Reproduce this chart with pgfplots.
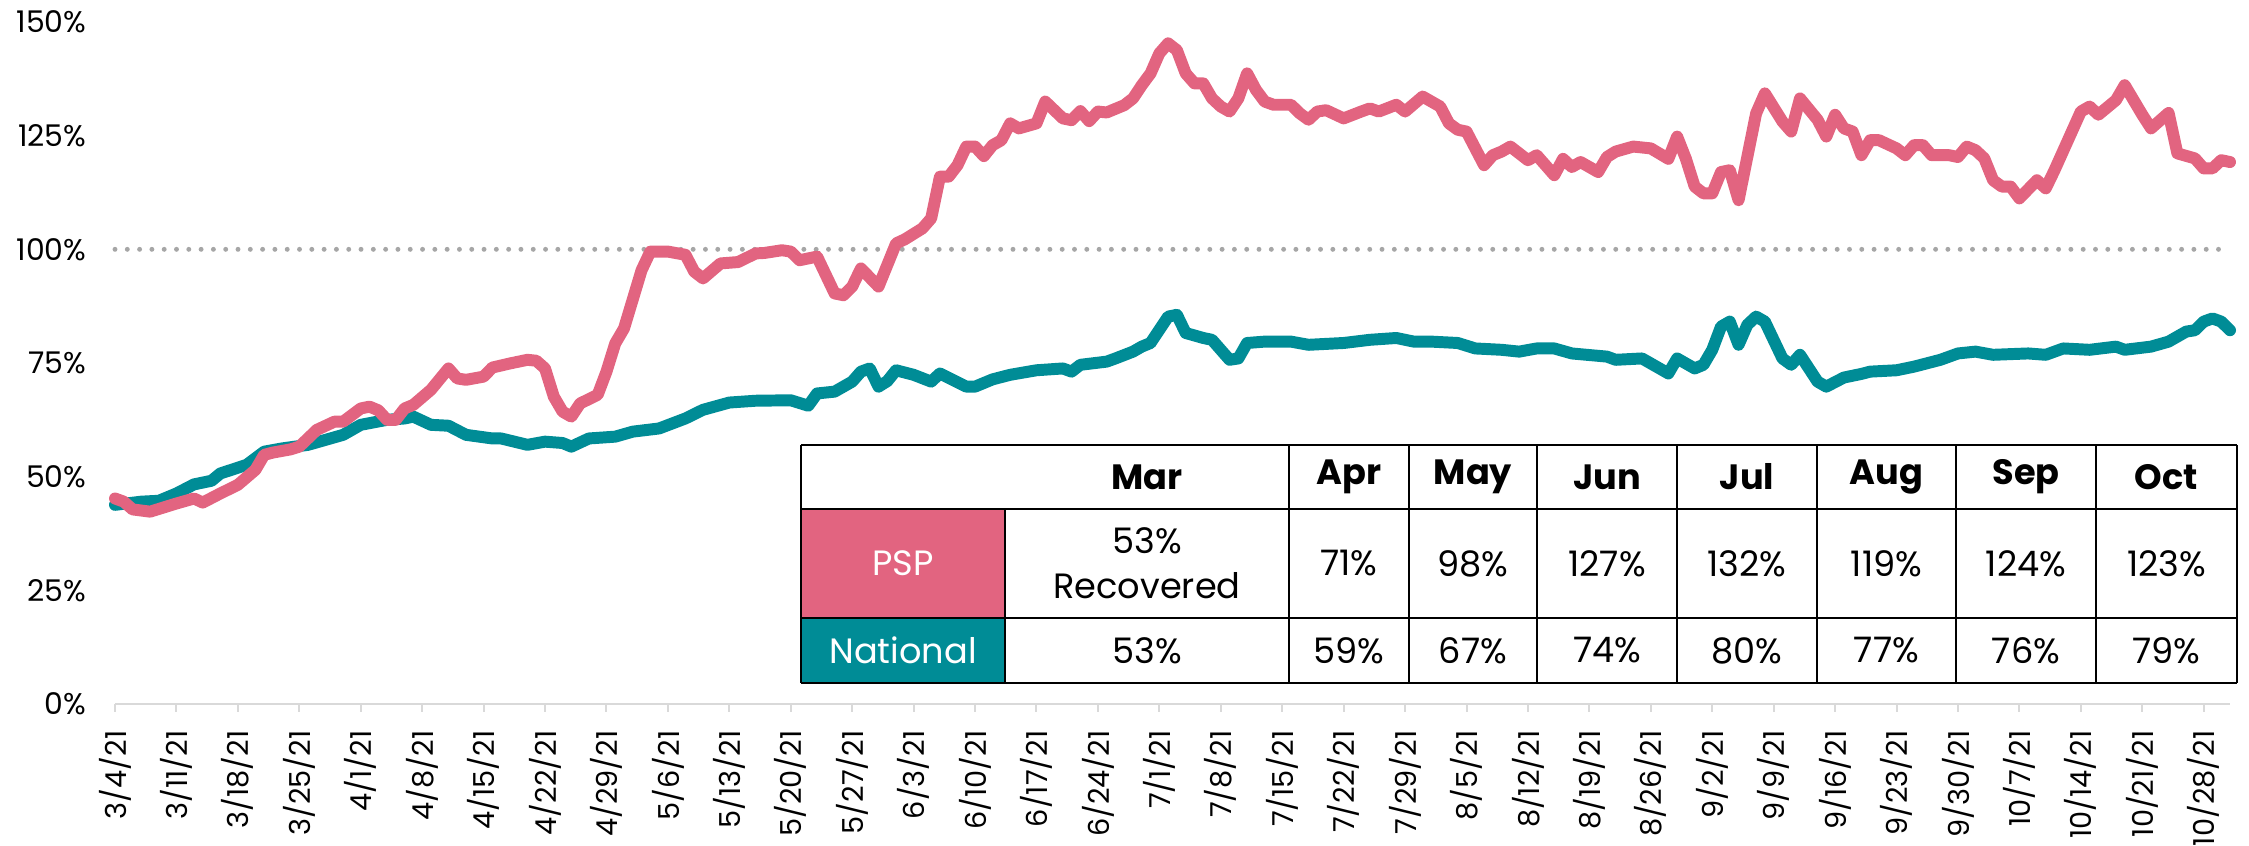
\documentclass[border=0pt]{standalone}
\usepackage{fontspec}
\setmainfont{Poppins}
\usepackage{pgfplots}
\pgfplotsset{compat=1.18}
\definecolor{psp}{HTML}{E26480}
\definecolor{nat}{HTML}{008C96}
\definecolor{axgray}{HTML}{D9D9D9}
\definecolor{dotgray}{HTML}{A6A6A6}
\begin{document}
\begin{tikzpicture}[x=1mm,y=1mm]
\useasboundingbox (0,0) rectangle (224.9,84.6);
\begin{axis}[
  at={(11.5mm,14.2mm)}, anchor=south west, scale only axis,
  width=211.5mm, height=68.2mm,
  xmin=0, xmax=241, ymin=0, ymax=150,
  clip=false,
  axis lines*=left,
  x axis line style={axgray, line width=0.25mm},
  y axis line style={draw=none},
  tick align=outside, major tick length=0.8mm,
  xtick style={axgray, line width=0.2mm},
  ytick style={draw=none},
  xtick={0,7,...,238},
  xticklabels={3/4/21,3/11/21,3/18/21,3/25/21,4/1/21,4/8/21,4/15/21,4/22/21,4/29/21,5/6/21,5/13/21,5/20/21,5/27/21,6/3/21,6/10/21,6/17/21,6/24/21,7/1/21,7/8/21,7/15/21,7/22/21,7/29/21,8/5/21,8/12/21,8/19/21,8/26/21,9/2/21,9/9/21,9/16/21,9/23/21,9/30/21,10/7/21,10/14/21,10/21/21,10/28/21},
  ytick={0,25,...,150},
  yticklabels={0\%,25\%,50\%,75\%,100\%,125\%,150\%},
  /pgf/number format/assume math mode=true,
  x tick label style={rotate=90, anchor=east, inner sep=0pt, font=\fontsize{8.2}{10}\selectfont},
  y tick label style={anchor=east, inner sep=0pt, font=\fontsize{8.5}{10}\selectfont},
  xticklabel shift=1.8mm,
  yticklabel shift=2mm,
]
\addplot[dotgray, line width=1.4pt, dash pattern=on 0pt off 3.5pt, line cap=round] coordinates {(0,100) (241,100)};
\addplot[nat, line width=3.4pt, line join=round, line cap=round] coordinates {
(0,43.8) (3,44.5) (5,44.7) (7,46.3) (9,48.3) (11,49.1) (12,50.7) (15,52.6) (17,55.5) (19,56.2)
(22,57.0) (24,58.1) (26,59.2) (28,61.4) (31,62.5) (33,62.8) (34,63.2) (36,61.4) (38,61.2) (40,59.2)
(43,58.4) (44,58.4) (47,57.0) (49,57.7) (51,57.4) (52,56.6) (54,58.4) (57,58.8) (59,59.9) (62,60.6)
(65,62.8) (67,64.7) (70,66.3) (73,66.7) (77,66.8) (79,65.6) (80,68.3) (82,68.7) (84,70.9) (85,73.1)
(86,73.8) (87,69.8) (88,71.0) (89,73.4) (91,72.4) (93,70.9) (94,72.7) (97,69.8) (98,69.8) (100,71.4)
(102,72.4) (105,73.4) (108,73.8) (109,73.1) (110,74.6) (113,75.3) (114,76.0) (116,77.5) (117,78.6) (118,79.4)
(120,85.2) (121,85.6) (122,81.6) (124,80.5) (125,80.1) (127,75.7) (128,76.0) (129,79.4) (131,79.7) (134,79.7)
(136,79.0) (140,79.4) (143,80.1) (146,80.5) (148,79.7) (150,79.7) (153,79.4) (155,78.2) (158,77.9) (160,77.5)
(162,78.2) (164,78.2) (166,77.1) (170,76.4) (171,75.7) (174,76.0) (175,74.9) (177,72.7) (178,76.0) (180,73.8)
(181,74.6) (182,77.9) (183,83.0) (184,84.1) (185,79.0) (186,83.4) (187,85.2) (188,84.1) (190,76.0) (191,74.6)
(192,76.8) (194,70.9) (195,69.8) (197,71.8) (199,72.6) (200,73.1) (203,73.4) (205,74.2) (208,75.7) (210,77.1)
(212,77.5) (214,76.8) (218,77.1) (220,76.8) (222,78.2) (225,77.9) (228,78.6) (229,77.9) (232,78.6) (234,79.7)
(236,81.9) (237,82.2) (238,84.1) (239,84.8) (240,84.1) (241,82.2)};
\addplot[psp, line width=3.4pt, line join=round, line cap=round] coordinates {
(0,45.2) (1,44.5) (2,42.8) (4,42.3) (7,44.1) (9,45.2) (10,44.3) (12,46.3) (14,48.2) (16,51.5)
(17,54.8) (18,55.3) (20,56.0) (21,56.6) (23,60.3) (25,62.1) (26,62.1) (28,65.0) (29,65.4) (30,64.6)
(31,62.5) (32,62.5) (33,65.0) (34,65.8) (36,69.1) (38,73.8) (39,71.6) (40,71.3) (42,72.0) (43,74.0)
(45,74.9) (47,75.7) (48,75.5) (49,73.8) (50,67.6) (51,64.3) (52,63.2) (53,66.1) (55,68.0) (56,73.1)
(57,79.3) (58,82.6) (60,95.4) (61,99.5) (63,99.5) (65,98.8) (66,95.1) (67,93.6) (69,96.9) (71,97.2)
(73,99.1) (74,99.2) (76,99.8) (77,99.5) (78,97.6) (80,98.4) (82,90.3) (83,89.9) (84,91.8) (85,95.8)
(87,91.8) (89,101.3) (90,102.2) (92,104.6) (93,106.8) (94,116.0) (95,116.0) (96,118.5) (97,122.6) (98,122.6)
(99,120.5) (100,122.9) (101,124.0) (102,127.7) (103,126.6) (105,127.7) (106,132.5) (108,128.8) (109,128.4) (110,130.4)
(111,128.2) (112,130.3) (113,130.1) (115,131.7) (116,133.2) (117,136.1) (118,138.7) (119,143.1) (120,145.3) (121,143.8)
(122,138.7) (123,136.5) (124,136.5) (125,133.2) (126,131.4) (127,130.3) (128,133.2) (129,138.7) (130,135.1) (131,132.5)
(132,131.8) (134,131.8) (135,129.9) (136,128.5) (137,130.3) (138,130.6) (140,128.8) (142,130.3) (143,131.0) (144,130.3)
(146,131.8) (147,130.3) (149,133.6) (151,131.4) (152,127.7) (153,126.3) (154,125.9) (155,122.2) (156,118.5) (157,120.7)
(158,121.5) (159,122.6) (161,119.6) (162,120.7) (164,116.3) (165,119.9) (166,118.1) (167,119.2) (169,117.0) (170,120.3)
(171,121.5) (173,122.6) (175,122.2) (177,119.9) (178,124.8) (179,119.9) (180,113.8) (181,112.3) (182,112.3) (183,117.0)
(184,117.4) (185,110.8) (187,129.9) (188,134.3) (190,128.1) (191,125.9) (192,133.2) (194,128.5) (195,124.8) (196,129.6)
(197,126.6) (198,125.9) (199,120.7) (200,124.0) (201,124.0) (203,122.2) (204,120.7) (205,122.9) (206,122.9) (207,120.7)
(209,120.7) (210,120.3) (211,122.6) (212,121.8) (213,120.0) (214,115.2) (215,113.8) (216,113.8) (217,111.2) (219,115.2)
(220,113.4) (221,117.4) (224,130.3) (225,131.4) (226,129.6) (228,132.8) (229,136.1) (231,129.6) (232,126.6) (234,130.0)
(235,121.1) (237,120.0) (238,117.8) (239,117.8) (240,119.6) (241,119.2)};
\end{axis}
% summary table
\fill[white] (80.1,16.3) rectangle (223.7,40.1);
\fill[psp] (80.1,22.8) rectangle (100.5,33.7);
\fill[nat] (80.1,16.3) rectangle (100.5,22.8);
\begin{scope}[line width=0.25mm, black]
\foreach \yy in {40.1,33.7,22.8,16.3} \draw (80.1,\yy) -- (223.7,\yy);
\foreach \xx in {80.1,128.9,140.9,153.7,167.7,181.7,195.6,209.6,223.7} \draw (\xx,16.3) -- (\xx,40.1);
\draw (100.5,16.3) -- (100.5,33.7);
\end{scope}
\begin{scope}[every node/.style={font=\fontsize{10}{12.7}\selectfont, inner sep=0pt, align=center}]
\foreach \lab/\xx in {Mar/114.7,Apr/134.9,May/147.3,Jun/160.7,Jul/174.7,Aug/188.65,Sep/202.6,Oct/216.65}
  \node[font=\fontsize{10}{12}\selectfont\bfseries] at (\xx,36.9) {\lab};
\node[text=white] at (90.3,28.25) {PSP};
\node[text=white] at (90.3,19.55) {National};
\node at (114.7,28.25) {53\%\\Recovered};
\foreach \v/\xx in {71/134.9,98/147.3,127/160.7,132/174.7,119/188.65,124/202.6,123/216.65}
  \node at (\xx,28.25) {\v\%};
\foreach \v/\xx in {53/114.7,59/134.9,67/147.3,74/160.7,80/174.7,77/188.65,76/202.6,79/216.65}
  \node at (\xx,19.55) {\v\%};
\end{scope}
\end{tikzpicture}
\end{document}
